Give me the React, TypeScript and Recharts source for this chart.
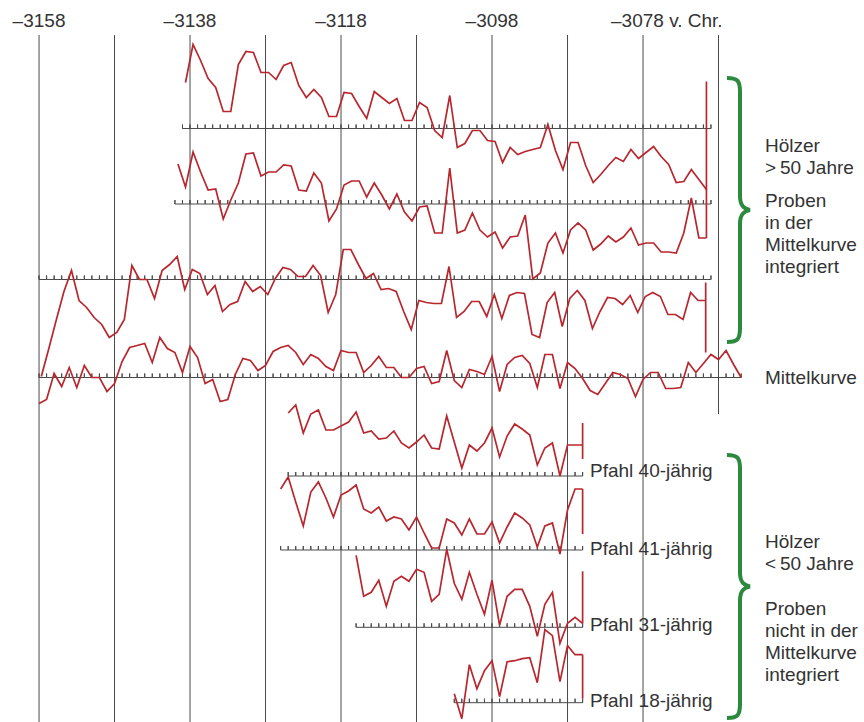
import React from 'react';
import { LineChart, Line, XAxis, YAxis, ReferenceLine } from 'recharts';

// ---------- data ----------
const gridYears = [-3158, -3148, -3138, -3128, -3118, -3108, -3098, -3088, -3078, -3068];
const labelYears = [-3158, -3138, -3118, -3098, -3078];

// ring-width index curves (relative units), one value per year
const s1Start = -3139;
const s1Values = [46, 84, 68, 50, 41, 17, 17, 64, 77, 76, 56, 56, 49, 63, 66, 43, 31, 39, 31, 12, 12, 36, 35, 22, 10, 37, 31, 25, 30, 8, 8, 26, 21, -2, -9, 33, -19, -15, -2, -2, -12, -13, -34, -19, -26, -23, -21, -19, 4, -22, -41, -14, -14, -37, -54, -46, -37, -29, -33, -21, -30, -24, -18, -28, -36, -54, -53, -41, -51, -61];

const s2Start = -3140;
const s2Values = [40, 17, 52, 32, 14, 15, -15, 4, 21, 50, 51, 28, 32, 32, 39, 38, 14, 13, 31, 21, -17, -5, 19, 23, 23, 7, 21, 9, -5, 10, -8, -17, -3, -2, -29, -29, 36, -29, -26, -9, -26, -33, -28, -44, -33, -32, -11, -75, -69, -39, -29, -49, -26, -19, -26, -46, -40, -32, -38, -33, -24, -41, -39, -39, -48, -48, -49, -29, 6, -34, -34];

const s3Start = -3158;
const s3Values = [-97, -69, -40, -12, 9, -21, -28, -38, -45, -58, -53, -40, 14, 0, 0, -19, 9, 15, 23, -10, 10, 6, -15, -6, -32, -25, -22, -2, -12, -7, -15, 1, 12, 10, 3, 3, 14, 4, -33, -15, 30, 30, 15, 1, 6, -10, -9, -12, -32, -50, -21, -23, -24, -24, 13, -38, -32, -22, -22, -37, -15, -39, -16, -13, -14, -55, -58, -23, -13, -47, -19, -11, -21, -49, -32, -18, -19, -25, -16, -33, -17, -13, -17, -35, -35, -40, -13, -21, -21];

const mStart = -3158;
const mValues = [-26, -22, 4, -9, 10, -10, 12, 0, 0, -14, -6, 16, 30, 32, 34, 15, 40, 29, 25, 5, 31, 20, -6, -2, -24, -22, 3, 19, 17, 7, 12, 26, 30, 32, 25, 13, 23, 19, 11, 7, 27, 25, 25, 5, 12, 21, 10, 10, 0, 0, 9, 11, -6, -4, 27, -3, -10, 8, 6, 3, 21, -14, 13, 20, 22, 14, -10, 23, 23, -11, 15, 9, -1, -13, -17, -6, 5, 3, -1, -19, -2, 5, 5, -11, -11, -10, 15, 5, 14, 23, 18, 27, 13, 0];

const p40Start = -3125;
const p40Values = [63, 71, 43, 62, 66, 46, 46, 50, 54, 64, 43, 45, 37, 38, 45, 33, 28, 34, 41, 28, 27, 60, 34, 8, 31, 25, 33, 48, 19, 40, 52, 47, 41, 11, 28, 33, 0, 31, 31, 31];

const p41Start = -3126;
const p41Values = [61, 73, 48, 24, 58, 68, 52, 33, 55, 59, 65, 41, 37, 43, 29, 33, 31, 20, 33, 17, 2, 2, 31, 27, 15, 31, 16, 16, 28, 7, 23, 37, 32, 25, 3, 24, 27, -4, 40, 61, 61];

const p31Start = -3116;
const p31Values = [72, 31, 35, 47, 21, 46, 51, 46, 58, 55, 26, 33, 78, 44, 28, 55, 33, 13, 47, 2, 31, 38, 38, 21, -9, 23, 35, -16, 4, 10, 4];

const p18Start = -3103;
const p18Values = [9, -16, 38, 14, 32, 42, 6, 41, 42, 44, 45, 20, 73, 67, 21, 57, 48, 48];

// ---------- layout ----------
const W = 864;
const H = 722;
const TOP = 35;
const X_MIN = -3163.17;
const X_MAX = -3048.73;
const RED = '#b8272e';
const GRID = '#4a4a4a';
const GREEN = '#2b8a3e';
const TEXT = '#333333';
const FONT = '"Liberation Sans", Arial, Helvetica, sans-serif';

type Track = {
  id: string;
  base: number;
  start: number;
  values: number[];
  shift: number;
  tickFrom: number;
  tickTo: number;
  end?: [number, number];
};

const tracks: Track[] = [
  { id: 's1', base: 128.5, start: s1Start, values: s1Values, shift: 0.4, tickFrom: -3139, tickTo: -3069, end: [47, -61] },
  { id: 's2', base: 204, start: s2Start, values: s2Values, shift: 0.4, tickFrom: -3140, tickTo: -3069, end: [15, -34] },
  { id: 's3', base: 279.5, start: s3Start, values: s3Values, shift: 0.3, tickFrom: -3158, tickTo: -3069, end: [-3, -73] },
  { id: 'm', base: 377.5, start: mStart, values: mValues, shift: 0, tickFrom: -3158, tickTo: -3065 },
  { id: 'p40', base: 476, start: p40Start, values: p40Values, shift: 0, tickFrom: -3125, tickTo: -3086, end: [53, 17] },
  { id: 'p41', base: 550, start: p41Start, values: p41Values, shift: 0, tickFrom: -3126, tickTo: -3086, end: [61, 16] },
  { id: 'p31', base: 627.3, start: p31Start, values: p31Values, shift: 0, tickFrom: -3116, tickTo: -3086, end: [56, 4] },
  { id: 'p18', base: 702.7, start: p18Start, values: p18Values, shift: 0, tickFrom: -3103, tickTo: -3086, end: [48, 4] },
];

const comb = (from: number, to: number, h: number) => {
  const pts: { x: number; v: number }[] = [];
  for (let y = from; y <= to; y++) {
    pts.push({ x: y, v: 0 }, { x: y, v: h }, { x: y, v: 0 });
  }
  return pts;
};

const series = (t: Track) => t.values.map((v, k) => ({ x: t.start + k + t.shift, v }));

const TopTick = (props: any) => {
  const { x, payload } = props;
  const val = payload.value as number;
  const label = '\u2013' + Math.abs(val);
  if (val === -3078) {
    return (
      <text x={x - 32} y={27} textAnchor="start" fontSize={19} fill={TEXT} fontFamily={FONT}>
        {label + ' v. Chr.'}
      </text>
    );
  }
  return (
    <text x={x} y={27} textAnchor="middle" fontSize={19} fill={TEXT} fontFamily={FONT}>
      {label}
    </text>
  );
};

const brace = (y0: number, y1: number) => {
  const xm = 740;
  const xe = 727;
  const xt = 750;
  const mid = (y0 + y1) / 2;
  return `M${xe},${y0} C${xm - 2},${y0} ${xm},${y0 + 3} ${xm},${y0 + 14} L${xm},${mid - 14} C${xm},${mid - 4} ${xm + 4},${mid - 1} ${xt},${mid} C${xm + 4},${mid + 1} ${xm},${mid + 4} ${xm},${mid + 14} L${xm},${y1 - 14} C${xm},${y1 - 3} ${xm - 2},${y1} ${xe},${y1}`;
};

const rightTexts: [string, number, number][] = [
  ['Hölzer', 765, 152],
  ['>\u200950 Jahre', 765, 174],
  ['Proben', 765, 207],
  ['in der', 765, 229],
  ['Mittelkurve', 765, 251],
  ['integriert', 765, 273],
  ['Mittelkurve', 765, 384],
  ['Hölzer', 765, 548],
  ['<\u200950 Jahre', 765, 570],
  ['Proben', 765, 615],
  ['nicht in der', 765, 637],
  ['Mittelkurve', 765, 659],
  ['integriert', 765, 681],
  ['Pfahl 40-jährig', 590, 477],
  ['Pfahl 41-jährig', 590, 555],
  ['Pfahl 31-jährig', 590, 631],
  ['Pfahl 18-jährig', 590, 707],
];

export default function App() {
  return (
    <div style={{ position: 'absolute', left: 0, top: 0, width: W, height: H, background: '#fff' }}>
      <LineChart width={W} height={H} margin={{ top: 0, right: 0, bottom: 0, left: 0 }}>
        <XAxis
          type="number"
          dataKey="x"
          orientation="top"
          domain={[X_MIN, X_MAX]}
          allowDataOverflow
          height={TOP}
          ticks={labelYears}
          interval={0}
          tick={<TopTick />}
          axisLine={false}
          tickLine={false}
        />
        <YAxis yAxisId="page" hide reversed type="number" domain={[TOP, H]} allowDataOverflow />
        {tracks.map((t) => (
          <YAxis
            key={'ya' + t.id}
            yAxisId={t.id}
            hide
            type="number"
            domain={[t.base - H, t.base - TOP]}
            allowDataOverflow
          />
        ))}
        {gridYears.map((yr) => (
          <ReferenceLine
            key={'g' + yr}
            yAxisId="page"
            segment={[
              { x: yr, y: TOP },
              { x: yr, y: yr === -3068 ? 414 : H },
            ]}
            stroke={GRID}
            strokeWidth={1}
          />
        ))}
        {tracks.map((t) => (
          <Line
            key={'c' + t.id}
            data={comb(t.tickFrom, t.tickTo, 4)}
            dataKey="v"
            yAxisId={t.id}
            type="linear"
            stroke={GRID}
            strokeWidth={1}
            dot={false}
            activeDot={false}
            isAnimationActive={false}
          />
        ))}
        {tracks.map((t) => (
          <Line
            key={'s' + t.id}
            data={series(t)}
            dataKey="v"
            yAxisId={t.id}
            type="linear"
            stroke={RED}
            strokeWidth={1.7}
            dot={false}
            activeDot={false}
            isAnimationActive={false}
          />
        ))}
        {tracks
          .filter((t) => t.end)
          .map((t) => {
            const ex = t.start + t.values.length - 1 + t.shift;
            return (
              <ReferenceLine
                key={'e' + t.id}
                yAxisId={t.id}
                segment={[
                  { x: ex, y: t.end![0] },
                  { x: ex, y: t.end![1] },
                ]}
                stroke={RED}
                strokeWidth={1.7}
              />
            );
          })}
      </LineChart>
      <svg
        width={W}
        height={H}
        style={{ position: 'absolute', left: 0, top: 0, pointerEvents: 'none' }}
      >
        <path d={brace(78, 342)} fill="none" stroke={GREEN} strokeWidth={4} />
        <path d={brace(455, 718)} fill="none" stroke={GREEN} strokeWidth={4} />
        {rightTexts.map(([s, x, y], i) => (
          <text key={i} x={x} y={y} fontSize={19} fill={TEXT} fontFamily={FONT}>
            {s}
          </text>
        ))}
      </svg>
    </div>
  );
}
